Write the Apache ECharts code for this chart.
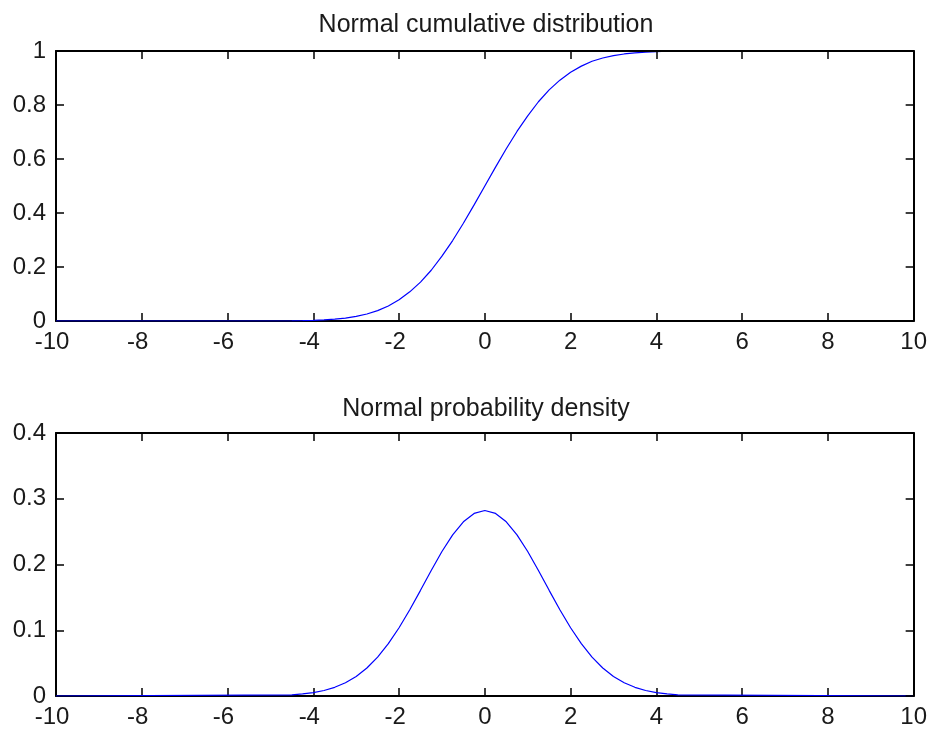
<!DOCTYPE html>
<html>
<head>
<meta charset="utf-8">
<script src="https://cdn.jsdelivr.net/npm/echarts@6/dist/echarts.min.js"></script>
<style>
html,body{margin:0;padding:0;background:#fff;}
#chart{width:930px;height:729px;}
</style>
</head>
<body>
<div id="chart"></div>
<script>
// ---- data ----
var titles = ['Normal cumulative distribution', 'Normal probability density'];
var xTicks = [-10, -8, -6, -4, -2, 0, 2, 4, 6, 8, 10];
var yTicksCdf = [0, 0.2, 0.4, 0.6, 0.8, 1];
var yTicksPdf = [0, 0.1, 0.2, 0.3, 0.4];

var xValues = [-10, -4.5, -4.25, -4, -3.75, -3.5, -3.25, -3, -2.75, -2.5, -2.25, -2, -1.75, -1.5, -1.25, -1, -0.75, -0.5, -0.25,
  0, 0.25, 0.5, 0.75, 1, 1.25, 1.5, 1.75, 2, 2.25, 2.5, 2.75, 3, 3.25, 3.5, 3.75, 4, 4.25, 4.5, 10];

var cdfValues = [0, 0.0007, 0.0013, 0.0023, 0.0040, 0.0068, 0.0108, 0.0169, 0.0259, 0.0385, 0.0558, 0.0786, 0.108, 0.144, 0.188, 0.240, 0.298, 0.362, 0.430,
  0.500, 0.570, 0.638, 0.702, 0.760, 0.812, 0.856, 0.892, 0.921, 0.944, 0.962, 0.974, 0.983, 0.989, 0.993, 0.996, 0.998, 0.999, 0.999, 1];

var pdfValues = [0, 0.0018, 0.0031, 0.0052, 0.0084, 0.0132, 0.0201, 0.0297, 0.0426, 0.0591, 0.0796, 0.1038, 0.1312, 0.1607, 0.1909, 0.2197, 0.2451, 0.2650, 0.2777,
  0.2821, 0.2777, 0.2650, 0.2451, 0.2197, 0.1909, 0.1607, 0.1312, 0.1038, 0.0796, 0.0591, 0.0426, 0.0297, 0.0201, 0.0132, 0.0084, 0.0052, 0.0031, 0.0018, 0];

// ---- chart ----
var FONT = 'Liberation Sans, Arial, sans-serif';
var TXT = '#1a1a1a';

function pairs(xs, ys) { return xs.map(function (x, i) { return [x, ys[i]]; }); }

function xAxisBottom(gi) {
  return {
    type: 'value', gridIndex: gi, position: 'bottom',
    min: xTicks[0], max: xTicks[xTicks.length - 1], interval: xTicks[1] - xTicks[0],
    axisLine: { show: true, onZero: false, lineStyle: { color: '#000', width: 2 } },
    axisTick: { show: true, inside: true, length: 8, lineStyle: { color: '#000', width: 1.5 } },
    splitLine: { show: false },
    axisLabel: {
      show: true, margin: 9, color: TXT, fontFamily: FONT, fontSize: 24,
      formatter: function (v) { return v < 0 ? '-' + Math.abs(v) + '{pad|}' : String(v); },
      rich: { pad: { width: 8, fontSize: 24, fontFamily: FONT } }
    }
  };
}
function xAxisTop(gi) {
  return {
    type: 'value', gridIndex: gi, position: 'top', z: 10,
    min: xTicks[0], max: xTicks[xTicks.length - 1], interval: xTicks[1] - xTicks[0],
    axisLine: { show: true, onZero: false, lineStyle: { color: '#000', width: 2 } },
    axisTick: { show: true, inside: true, length: 8, lineStyle: { color: '#000', width: 1.5 } },
    splitLine: { show: false },
    axisLabel: { show: false }
  };
}
function yAxisLeft(gi, ticks) {
  return {
    type: 'value', gridIndex: gi, position: 'left',
    min: ticks[0], max: ticks[ticks.length - 1], interval: ticks[1] - ticks[0],
    axisLine: { show: true, onZero: false, lineStyle: { color: '#000', width: 2 } },
    axisTick: { show: true, inside: true, length: 8, lineStyle: { color: '#000', width: 1.5 } },
    splitLine: { show: false },
    axisLabel: { show: true, margin: 10, color: TXT, fontFamily: FONT, fontSize: 24 }
  };
}
function yAxisRight(gi, ticks) {
  return {
    type: 'value', gridIndex: gi, position: 'right', z: 10,
    min: ticks[0], max: ticks[ticks.length - 1], interval: ticks[1] - ticks[0],
    axisLine: { show: true, onZero: false, lineStyle: { color: '#000', width: 2 } },
    axisTick: { show: true, inside: true, length: 8, lineStyle: { color: '#000', width: 1.5 } },
    splitLine: { show: false },
    axisLabel: { show: false }
  };
}

var chart = echarts.init(document.getElementById('chart'), null, { renderer: 'canvas' });
chart.setOption({
  animation: false,
  backgroundColor: '#fff',
  title: [
    { text: titles[0], left: 481, top: 8, textAlign: 'center',
      textStyle: { fontFamily: FONT, fontSize: 25, fontWeight: 'normal', color: TXT } },
    { text: titles[1], left: 481, top: 392, textAlign: 'center',
      textStyle: { fontFamily: FONT, fontSize: 25, fontWeight: 'normal', color: TXT } }
  ],
  grid: [
    { left: 56, right: 14, top: 51, height: 270 },
    { left: 56, right: 14, top: 433, height: 264 }
  ],
  xAxis: [xAxisBottom(0), xAxisTop(0), xAxisBottom(1), xAxisTop(1)],
  yAxis: [yAxisLeft(0, yTicksCdf), yAxisRight(0, yTicksCdf), yAxisLeft(1, yTicksPdf), yAxisRight(1, yTicksPdf)],
  series: [
    { type: 'line', xAxisIndex: 0, yAxisIndex: 0, data: pairs(xValues, cdfValues),
      showSymbol: false, symbol: 'none', lineStyle: { color: '#0000ff', width: 1.2 }, z: 2 },
    { type: 'line', xAxisIndex: 2, yAxisIndex: 2, data: pairs(xValues, pdfValues),
      showSymbol: false, symbol: 'none', lineStyle: { color: '#0000ff', width: 1.2 }, z: 2 }
  ]
});
</script>
</body>
</html>
